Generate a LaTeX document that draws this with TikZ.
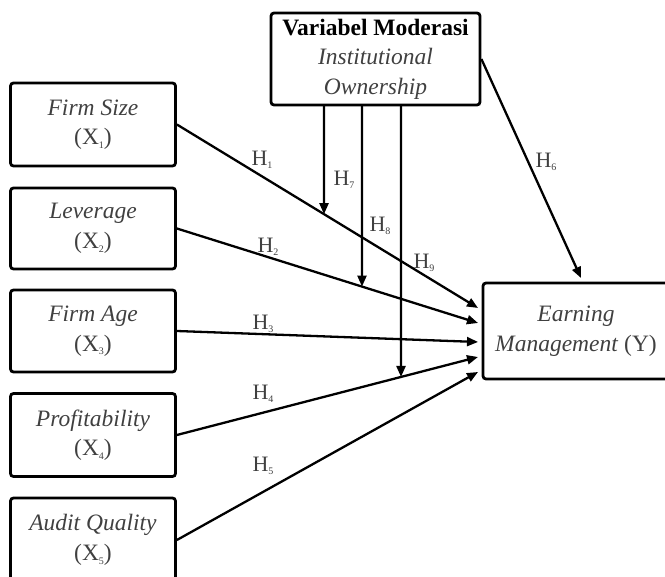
\documentclass[tikz,border=0pt]{standalone}
\usepackage{fontspec}
\setmainfont{Liberation Serif}
\usetikzlibrary{arrows.meta,calc}
\begin{document}
\begin{tikzpicture}[x=1pt,y=-1pt,
  box/.style={draw=black,line width=2.8pt,rounded corners=3pt,align=center,
    text=black!75,font=\fontsize{23.5}{29.5}\selectfont,inner sep=0pt},
  arr/.style={line width=2.3pt,-{Triangle[length=11pt,width=9pt]}},
  hlab/.style={text=black!75,font=\fontsize{22}{24}\selectfont,inner sep=0pt}]
\useasboundingbox (0,0) rectangle (665,577);
\newcommand{\hx}[1]{H\raisebox{-0.35ex}{\fontsize{10}{10}\selectfont #1}}
\newcommand{\xs}[1]{X\raisebox{-0.35ex}{\fontsize{10}{10}\selectfont #1}}
% boxes
\node[box,minimum width=165pt,minimum height=83pt] (fs) at (93,124.5) {\textit{Firm Size}\\(\xs{1})};
\node[box,minimum width=165pt,minimum height=81pt] (lv) at (93,228.5) {\textit{Leverage}\\(\xs{2})};
\node[box,minimum width=165pt,minimum height=82pt] (fa) at (93,331) {\textit{Firm Age}\\(\xs{3})};
\node[box,minimum width=165pt,minimum height=83pt] (pr) at (93,435) {\textit{Profitability}\\(\xs{4})};
\node[box,minimum width=165pt,minimum height=84pt] (aq) at (93,540) {\textit{Audit Quality}\\(\xs{5})};
\node[box,minimum width=209pt,minimum height=92pt] (mod) at (375.5,59) {\textcolor{black}{\textbf{Variabel Moderasi}}\\\textit{Institutional}\\\textit{Ownership}};
\node[box,minimum width=186pt,minimum height=96pt] (em) at (576,331) {\textit{Earning}\\\textit{Management} (Y)};
% target points on Earning Management box
\coordinate (t1) at (478,308);
\coordinate (t2) at (478,323);
\coordinate (t3) at (478,342);
\coordinate (t4) at (478,357);
\coordinate (t5) at (478,372);
\coordinate (t6) at (581,278);
% main arrows
\draw[arr] (fs.east) -- (t1);
\draw[arr] (lv.east) -- (t2);
\draw[arr] (fa.east) -- (t3);
\draw[arr] (pr.east) -- (t4);
\draw[arr] (aq.east) -- (t5);
\draw[arr] (mod.east) -- (t6);
% moderation arrows
\coordinate (m7) at (324,106); \coordinate (m7b) at (324,500);
\coordinate (m8) at (362,106); \coordinate (m8b) at (362,500);
\coordinate (m9) at (401,106); \coordinate (m9b) at (401,500);
\draw[arr] (m7) -- (intersection of fs.east--t1 and m7--m7b);
\draw[arr] (m8) -- (intersection of lv.east--t2 and m8--m8b);
\draw[arr] (m9) -- (intersection of pr.east--t4 and m9--m9b);
% labels
\node[hlab] (h1) at (262,160) {\hx{1}};
\node[hlab] (h2) at (268,247) {\hx{2}};
\node[hlab] (h3) at (263,324) {\hx{3}};
\node[hlab] (h4) at (263,394) {\hx{4}};
\node[hlab] (h5) at (263,466) {\hx{5}};
\node[hlab] (h6) at (546,162) {\hx{6}};
\node[hlab] (h7) at (344,180) {\hx{7}};
\node[hlab] (h8) at (380,226) {\hx{8}};
\node[hlab] (h9) at (424,263) {\hx{9}};
\end{tikzpicture}
\end{document}
